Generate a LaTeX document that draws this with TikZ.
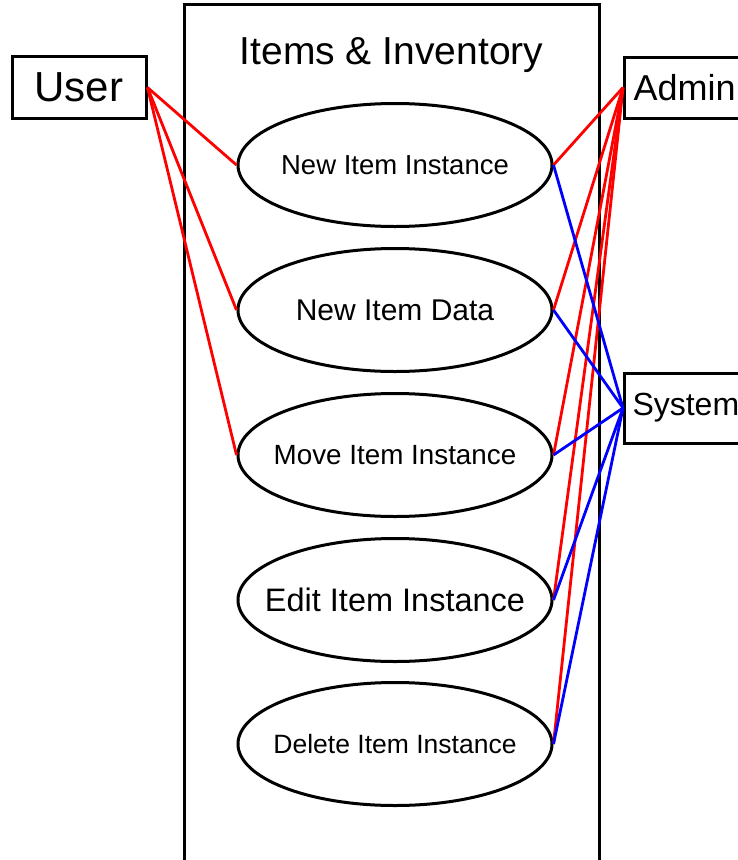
\documentclass[tikz,border=0pt]{standalone}
\usepackage{fontspec}
\setmainfont{Liberation Sans}
\usetikzlibrary{shapes.geometric}
\newcommand{\uclabel}[1]{\makebox[0pt]{#1}}
\begin{document}
\begin{tikzpicture}[x=1pt,y=-1pt,
  box/.style={draw=black, line width=3pt},
  actor/.style={draw=black, line width=3pt, rectangle, inner sep=0pt},
  usecase/.style={draw=black, line width=3pt, ellipse, minimum width=314pt, minimum height=123pt, inner sep=0pt},
  userlink/.style={draw=red, line width=2.8pt},
  adminlink/.style={draw=red, line width=2.8pt},
  syslink/.style={draw=blue, line width=2.8pt}]
  \useasboundingbox (0,0) rectangle (738,860);
  \fill[white] (0,0) rectangle (738,860);

  % system boundary
  \draw[box] (184,4) rectangle (599,880);
  \node[font=\fontsize{39}{42}\selectfont] (title) at (391.5,55) {Items \& Inventory};

  % actors
  \node[actor, minimum width=134pt, minimum height=62pt, font=\fontsize{42}{46}\selectfont] (user) at (79,87.5) {User};
  \node[actor, anchor=west, text width=124pt, align=left, inner xsep=9pt, minimum height=61pt, font=\fontsize{36}{40}\selectfont] (admin) at (623,87.5) {Admin};
  \node[actor, anchor=west, text width=124pt, align=left, inner xsep=8pt, minimum height=70pt, font=\fontsize{32}{36}\selectfont] (system) at (623,408) {System};

  % use cases
  \node[usecase, font=\fontsize{27.5}{30}\selectfont] (uc1) at (395,165) {\uclabel{New Item Instance}};
  \node[usecase, font=\fontsize{30}{33}\selectfont] (uc2) at (395,310) {\uclabel{New Item Data}};
  \node[usecase, font=\fontsize{27.8}{30}\selectfont] (uc3) at (395,455) {\uclabel{Move Item Instance}};
  \node[usecase, font=\fontsize{32.5}{35}\selectfont] (uc4) at (395,600) {\uclabel{Edit Item Instance}};
  \node[usecase, font=\fontsize{26.5}{29}\selectfont] (uc5) at (395,744) {\uclabel{Delete Item Instance}};

  % user associations
  \foreach \u in {uc1,uc2,uc3}
    \draw[userlink] (user.east) -- (\u.west);
  % admin associations
  \foreach \u in {uc1,uc2,uc3,uc4,uc5}
    \draw[adminlink] (admin.west) -- (\u.east);
  % system associations
  \foreach \u in {uc1,uc2,uc3,uc4,uc5}
    \draw[syslink] (system.west) -- (\u.east);
\end{tikzpicture}
\end{document}
